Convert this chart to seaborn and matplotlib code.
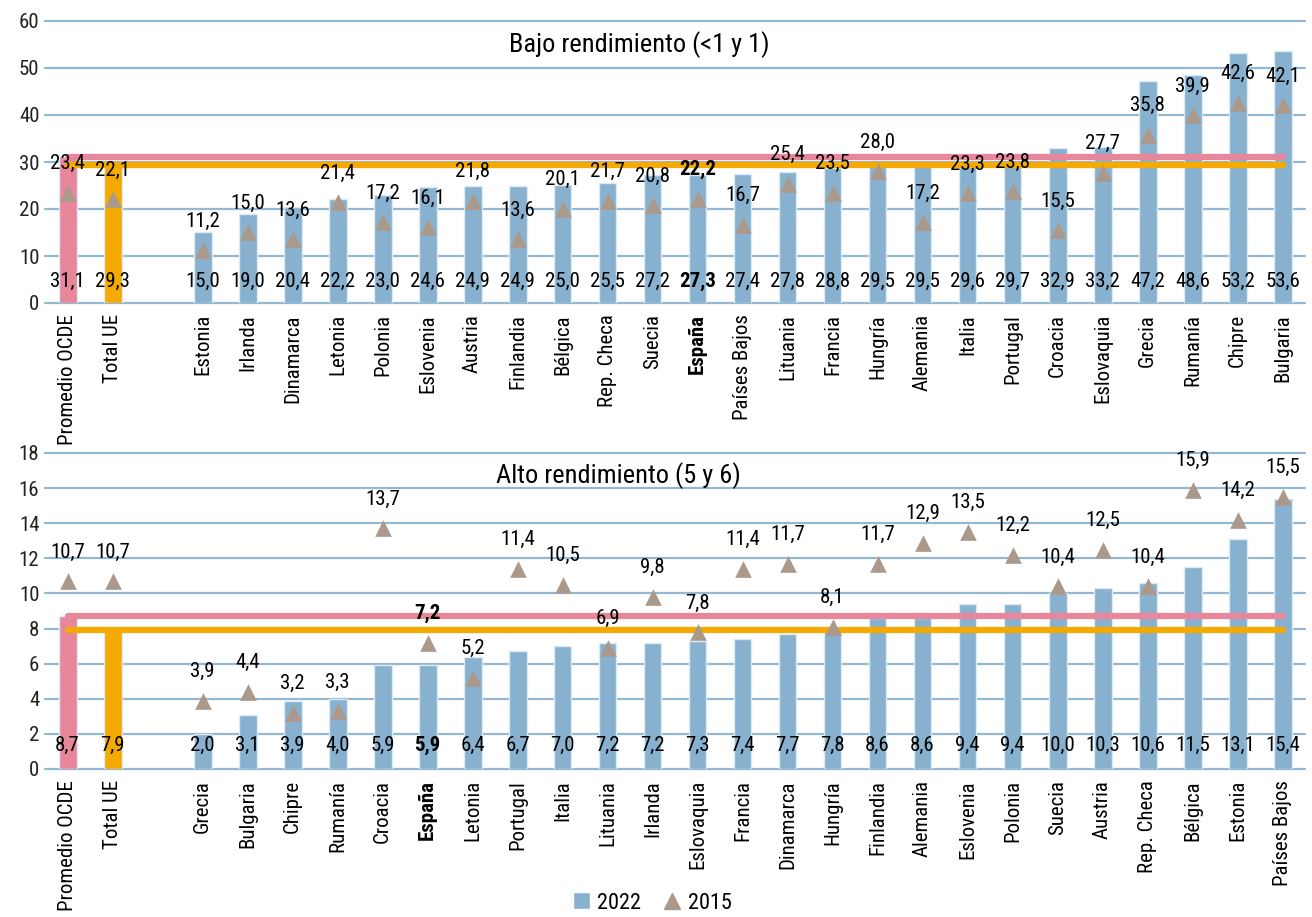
"""
Rendimiento bajo y alto por país (2022 vs 2015)
"""
import numpy as np
import pandas as pd
import matplotlib
matplotlib.use("Agg")
import matplotlib.pyplot as plt
import matplotlib.transforms as mtransforms
from matplotlib import font_manager
from matplotlib.patches import Patch
from matplotlib.lines import Line2D
import seaborn as sns

# ---- datos ----
referencias = ["Promedio OCDE", "Total UE"]

# Bajo rendimiento (<1 y 1)
paises_bajo = ["Estonia", "Irlanda", "Dinamarca", "Letonia", "Polonia", "Eslovenia",
               "Austria", "Finlandia", "Bélgica", "Rep. Checa", "Suecia", "España",
               "Países Bajos", "Lituania", "Francia", "Hungría", "Alemania", "Italia",
               "Portugal", "Croacia", "Eslovaquia", "Grecia", "Rumanía", "Chipre", "Bulgaria"]
bajo_2022 = [15.0, 19.0, 20.4, 22.2, 23.0, 24.6, 24.9, 24.9, 25.0, 25.5, 27.2, 27.3,
             27.4, 27.8, 28.8, 29.5, 29.5, 29.6, 29.7, 32.9, 33.2, 47.2, 48.6, 53.2, 53.6]
bajo_2015 = [11.2, 15.0, 13.6, 21.4, 17.2, 16.1, 21.8, 13.6, 20.1, 21.7, 20.8, 22.2,
             16.7, 25.4, 23.5, 28.0, 17.2, 23.3, 23.8, 15.5, 27.7, 35.8, 39.9, 42.6, 42.1]
ref_bajo_2022 = [31.1, 29.3]
ref_bajo_2015 = [23.4, 22.1]

# Alto rendimiento (5 y 6)
paises_alto = ["Grecia", "Bulgaria", "Chipre", "Rumanía", "Croacia", "España", "Letonia",
               "Portugal", "Italia", "Lituania", "Irlanda", "Eslovaquia", "Francia",
               "Dinamarca", "Hungría", "Finlandia", "Alemania", "Eslovenia", "Polonia",
               "Suecia", "Austria", "Rep. Checa", "Bélgica", "Estonia", "Países Bajos"]
alto_2022 = [2.0, 3.1, 3.9, 4.0, 5.9, 5.9, 6.4, 6.7, 7.0, 7.2, 7.2, 7.3, 7.4,
             7.7, 7.8, 8.6, 8.6, 9.4, 9.4, 10.0, 10.3, 10.6, 11.5, 13.1, 15.4]
alto_2015 = [3.9, 4.4, 3.2, 3.3, 13.7, 7.2, 5.2, 11.4, 10.5, 6.9, 9.8, 7.8, 11.4,
             11.7, 8.1, 11.7, 12.9, 13.5, 12.2, 10.4, 12.5, 10.4, 15.9, 14.2, 15.5]
ref_alto_2022 = [8.7, 7.9]
ref_alto_2015 = [10.7, 10.7]

AZUL = "#87B1CE"
ROSA = "#E8879C"
NARANJA = "#F4AA00"
TRIANGULO = "#AB9A8C"
REJILLA = "#93B8D4"

# fuente estrecha si existe
disponibles = {f.name for f in font_manager.fontManager.ttflist}
candidatas = ["Roboto Condensed", "Liberation Sans Narrow", "Open Sans Condensed",
              "Noto Sans Condensed", "DejaVu Sans"]
FUENTE = next(f for f in candidatas if f in disponibles or f == "DejaVu Sans")

sns.set_theme(style="white")
plt.rcParams["font.family"] = [FUENTE, "DejaVu Sans"]
plt.rcParams["font.stretch"] = "condensed"
plt.rcParams["text.color"] = "black"
FS = 15


def fmt(v):
    return f"{v:.1f}".replace(".", ",")


def dibujar_panel(ax, paises, v22, v15, refs22, refs15, titulo, ymax, paso, pos_titulo):
    nombres = referencias + paises
    df = pd.DataFrame({"pais": nombres, "v22": refs22 + v22, "v15": refs15 + v15})
    orden = referencias + [" "] + paises
    paleta = {n: AZUL for n in paises}
    paleta["Promedio OCDE"] = ROSA
    paleta["Total UE"] = NARANJA

    sns.barplot(data=df, x="pais", y="v22", hue="pais", order=orden, palette=paleta,
                width=0.4, edgecolor="#DCEAF4", linewidth=1, saturation=1,
                legend=False, ax=ax, zorder=2)

    # líneas de referencia OCDE / UE
    x0 = orden.index("Promedio OCDE")
    x1 = len(orden) - 1
    ax.plot([x0, x1], [refs22[0]] * 2, color=ROSA, lw=4.5, solid_capstyle="round", zorder=3)
    ax.plot([x0, x1], [refs22[1]] * 2, color=NARANJA, lw=4.5, solid_capstyle="round", zorder=3)

    sns.stripplot(data=df, x="pais", y="v15", order=orden, jitter=False, marker="^",
                  color=TRIANGULO, size=12, linewidth=0, ax=ax, zorder=4)

    trans = mtransforms.blended_transform_factory(ax.transData, ax.transAxes)
    for _, fila in df.iterrows():
        i = orden.index(fila["pais"])
        peso = "bold" if fila["pais"] == "España" else "normal"
        ax.text(i, 0.075, fmt(fila["v22"]), transform=trans, ha="center", va="center",
                fontsize=FS, fontweight=peso, zorder=5)
        ax.annotate(fmt(fila["v15"]), (i, fila["v15"]), xytext=(0, 21),
                    textcoords="offset points", ha="center", va="center",
                    fontsize=FS, fontweight=peso, zorder=5)

    ax.text(pos_titulo[0], pos_titulo[1], titulo, transform=ax.transAxes,
            ha="center", va="center", fontsize=19)

    ax.set_xlim(-0.5, len(orden) - 0.5)
    ax.set_ylim(0, ymax)
    ax.set_yticks(np.arange(0, ymax + 1, paso))
    ax.set_xticks(range(len(orden)))
    ax.set_xticklabels(orden, rotation=90, fontsize=FS, va="top", ha="center", color="black")
    for t in ax.get_xticklabels():
        if t.get_text() == "España":
            t.set_fontweight("bold")
    ax.tick_params(axis="y", labelsize=FS, length=0, pad=4, colors="#222222")
    ax.tick_params(axis="x", length=0, pad=8)
    ax.set_xlabel("")
    ax.set_ylabel("")
    ax.grid(axis="y", color=REJILLA, lw=1.6)
    ax.grid(axis="x", visible=False)
    ax.set_axisbelow(True)
    for s in ax.spines.values():
        s.set_visible(False)
    for gl in ax.get_ygridlines():
        gl.set_clip_on(False)


fig = plt.figure(figsize=(13.12, 9.17), dpi=100)
W, H = 1312, 917
ax1 = fig.add_axes([45 / W, (H - 303) / H, 1260 / W, 282 / H])
ax2 = fig.add_axes([45 / W, (H - 769) / H, 1260 / W, 316 / H])

dibujar_panel(ax1, paises_bajo, bajo_2022, bajo_2015, ref_bajo_2022, ref_bajo_2015,
              "Bajo rendimiento (<1 y 1)", 60, 10, (0.472, 0.915))
dibujar_panel(ax2, paises_alto, alto_2022, alto_2015, ref_alto_2022, ref_alto_2015,
              "Alto rendimiento (5 y 6)", 18, 2, (0.455, 0.93))

leyenda = [
    Patch(facecolor=AZUL, label="2022"),
    Line2D([], [], marker="^", color=TRIANGULO, ls="", markersize=12, label="2015"),
]
fig.legend(handles=leyenda, loc="lower center", bbox_to_anchor=(0.497, 0.0), ncol=2,
           frameon=False, prop={"size": 16}, handlelength=0.8, handleheight=0.8,
           handletextpad=0.3, columnspacing=1.0, borderpad=0.15, borderaxespad=0)

fig.savefig("out.png", dpi=100)
plt.close(fig)
